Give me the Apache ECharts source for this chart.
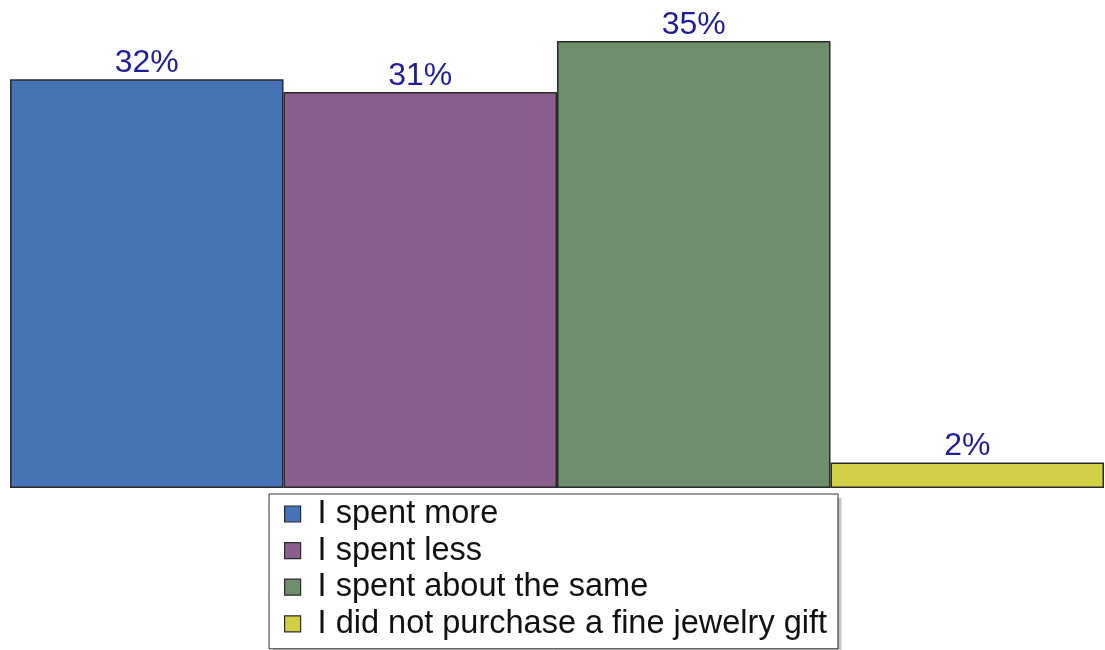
<!DOCTYPE html>
<html>
<head>
<meta charset="utf-8">
<script src="https://cdn.jsdelivr.net/npm/echarts@6/dist/echarts.min.js"></script>
<style>
  html, body { margin: 0; padding: 0; background: #ffffff; }
  #chart { width: 1105px; height: 650px; }
</style>
</head>
<body>
<div id="chart"></div>
<script>
// Survey answers and their shares (percent)
const answers = [
  'I spent more',
  'I spent less',
  'I spent about the same',
  'I did not purchase a fine jewelry gift'
];
const shares = [32, 31, 35, 2];
const barColors = ['#4673B5', '#8B5F8D', '#6E8E6E', '#D1CF45'];

const FONT = 'Liberation Sans, Arial, sans-serif';
const chart = echarts.init(document.getElementById('chart'));

// One bar per answer, all placed side by side in a single category
const series = answers.map((name, i) => ({
  name: name,
  type: 'bar',
  data: [shares[i]],
  barGap: '0%',
  barCategoryGap: '0%',
  itemStyle: {
    color: barColors[i],
    borderColor: '#2a2a2a',
    borderWidth: 1.5
  },
  label: {
    show: true,
    position: 'top',
    distance: 0,
    formatter: '{c}%',
    color: '#1E1E96',
    fontFamily: FONT,
    fontSize: 32
  }
}));

// Shared legend layout; the first copy paints the white panel and its drop
// shadow, the second copy draws the border, swatches and text on top.
const legendBase = {
  orient: 'vertical',
  left: 269,
  top: 494,
  padding: [3, 11, 8, 15],
  itemGap: 2.6,
  itemWidth: 16,
  itemHeight: 16,
  icon: 'rect',
  selectedMode: false,
  formatter: name => '{t|' + name + '}',
  data: answers
};
const legendText = {
  fontFamily: FONT,
  fontSize: 32.5,
  lineHeight: 34
};

chart.setOption({
  animation: false,
  backgroundColor: '#ffffff',
  grid: { left: 10, right: 1, top: 0, bottom: 162 },
  xAxis: {
    type: 'category',
    data: [''],
    show: false
  },
  yAxis: {
    type: 'value',
    min: 0,
    max: 38.2,
    show: false
  },
  legend: [
    Object.assign({}, legendBase, {
      z: 3,
      backgroundColor: '#ffffff',
      borderWidth: 0,
      shadowColor: '#c4c4c4',
      shadowBlur: 0,
      shadowOffsetX: 4,
      shadowOffsetY: 4,
      itemStyle: { color: 'rgba(0,0,0,0)', borderColor: 'rgba(0,0,0,0)', borderWidth: 0 },
      textStyle: Object.assign({}, legendText, {
        color: 'rgba(0,0,0,0)',
        rich: { t: Object.assign({}, legendText, { color: 'rgba(0,0,0,0)', padding: [0, 0, 0, 12] }) }
      })
    }),
    Object.assign({}, legendBase, {
      z: 4,
      backgroundColor: 'rgba(0,0,0,0)',
      borderColor: '#333333',
      borderWidth: 1,
      itemStyle: { borderColor: '#2a2a2a', borderWidth: 1.2 },
      textStyle: Object.assign({}, legendText, {
        color: '#111111',
        rich: { t: Object.assign({}, legendText, { color: '#111111', padding: [0, 0, 0, 12] }) }
      })
    })
  ],
  series: series
});
</script>
</body>
</html>
